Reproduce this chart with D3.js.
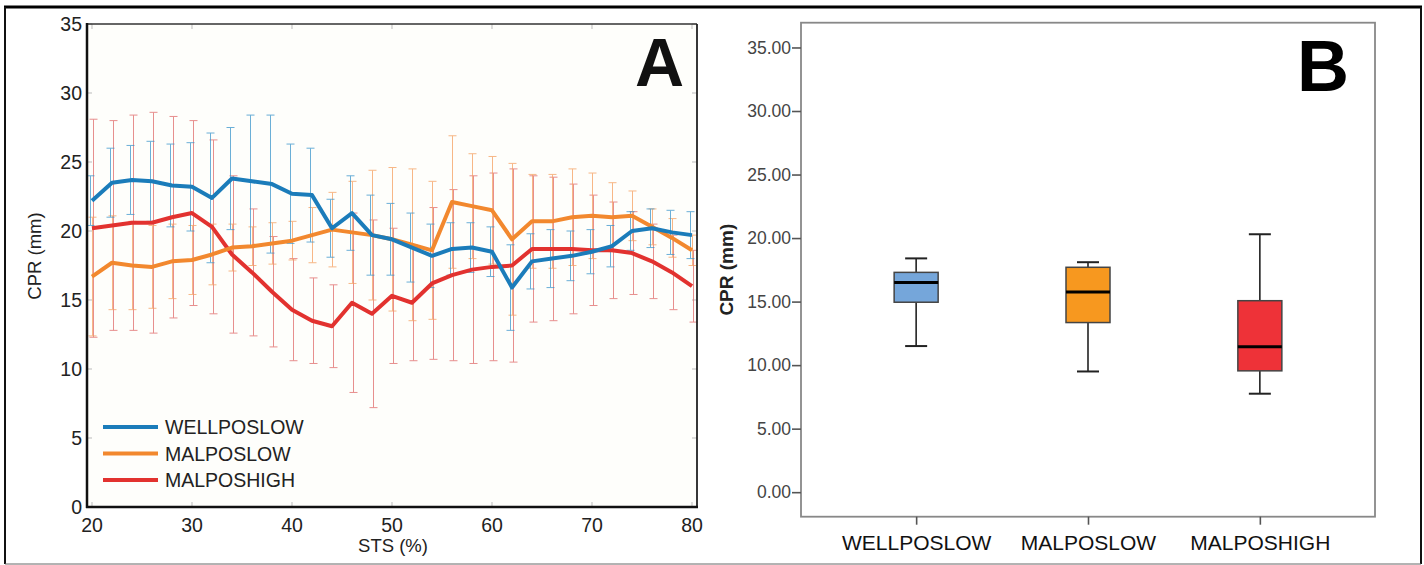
<!DOCTYPE html>
<html>
<head>
<meta charset="utf-8">
<script src="https://cdn.jsdelivr.net/npm/d3@7"></script>
<style>
  body { margin: 0; background: #fff; }
  svg { display: block; font-family: "Liberation Sans", Arial, sans-serif; }
</style>
</head>
<body>
<div id="chart"></div>
<script>
// ---- panel A data (mean and SD per STS step) ----
const stsValues = [20, 22, 24, 26, 28, 30, 32, 34, 36, 38, 40, 42, 44, 46, 48, 50, 52, 54, 56, 58, 60, 62, 64, 66, 68, 70, 72, 74, 76, 78, 80];
const wellposlowMean = [22.2, 23.5, 23.7, 23.6, 23.3, 23.2, 22.4, 23.8, 23.6, 23.4, 22.7, 22.6, 20.2, 21.3, 19.7, 19.4, 18.8, 18.2, 18.7, 18.8, 18.5, 15.9, 17.8, 18.0, 18.2, 18.5, 18.9, 20.0, 20.2, 19.9, 19.7];
const wellposlowSd = [1.8, 2.5, 2.5, 2.9, 3.0, 3.2, 4.7, 3.7, 4.8, 5.0, 3.6, 3.4, 2.1, 2.7, 2.9, 2.6, 2.5, 2.3, 1.9, 1.8, 1.8, 3.1, 2.0, 2.1, 1.8, 1.6, 1.5, 1.4, 1.4, 1.6, 1.7];
const malposlowMean = [16.7, 17.7, 17.5, 17.4, 17.8, 17.9, 18.3, 18.8, 18.9, 19.1, 19.3, 19.7, 20.1, 19.9, 19.7, 19.4, 19.0, 18.6, 22.1, 21.8, 21.5, 19.4, 20.7, 20.7, 21.0, 21.1, 21.0, 21.1, 20.3, 19.5, 18.6];
const malposlowSd = [4.3, 3.4, 3.2, 3.0, 2.7, 2.5, 2.2, 1.7, 1.4, 1.5, 1.4, 2.0, 2.7, 3.7, 4.7, 5.2, 5.5, 5.0, 4.8, 3.8, 3.9, 5.5, 3.4, 3.4, 3.5, 3.1, 2.5, 1.8, 1.3, 1.4, 1.1];
const malposhighMean = [20.2, 20.4, 20.6, 20.6, 21.0, 21.3, 20.3, 18.3, 17.0, 15.6, 14.3, 13.5, 13.1, 14.8, 14.0, 15.3, 14.8, 16.2, 16.8, 17.2, 17.4, 17.5, 18.7, 18.7, 18.7, 18.6, 18.6, 18.4, 17.8, 17.0, 16.0];
const malposhighSd = [7.9, 7.6, 7.8, 8.0, 7.3, 6.7, 6.3, 5.7, 4.6, 4.0, 3.7, 3.1, 3.0, 6.5, 6.8, 4.9, 4.2, 5.5, 6.2, 6.8, 6.8, 7.0, 5.3, 5.2, 4.7, 4.0, 3.5, 3.0, 2.7, 2.7, 2.6];
const xTicksA = [20, 30, 40, 50, 60, 70, 80];
const yTicksA = [0, 5, 10, 15, 20, 25, 30, 35];

// ---- panel B data (box plot) ----
const boxCategories = ["WELLPOSLOW", "MALPOSLOW", "MALPOSHIGH"];
const boxMin = [11.5, 9.5, 7.75];
const boxQ1 = [14.95, 13.35, 9.55];
const boxMedian = [16.5, 15.75, 11.45];
const boxQ3 = [17.3, 17.7, 15.07];
const boxMax = [18.4, 18.1, 20.3];
const yTicksB = [0, 5, 10, 15, 20, 25, 30, 35];

const W = 1424, H = 565;
const svg = d3.select("#chart").append("svg").attr("width", W).attr("height", H);

// outer frame
svg.append("line").attr("x1", 4).attr("x2", 1422).attr("y1", 7).attr("y2", 7).attr("stroke", "#000").attr("stroke-width", 3);
svg.append("line").attr("x1", 5).attr("x2", 5).attr("y1", 7).attr("y2", 564).attr("stroke", "#111").attr("stroke-width", 2);
svg.append("line").attr("x1", 1421).attr("x2", 1421).attr("y1", 7).attr("y2", 564).attr("stroke", "#111").attr("stroke-width", 2);
svg.append("line").attr("x1", 5).attr("x2", 1421).attr("y1", 564).attr("y2", 564).attr("stroke", "#666").attr("stroke-width", 1);

// ================= Panel A =================
const A = { left: 87, right: 697, top: 24, bottom: 507 };
const xA = d3.scaleLinear().domain([19.5, 80.5]).range([A.left, A.right]);
const yA = d3.scaleLinear().domain([0, 35]).range([A.bottom, A.top]);
const gA = svg.append("g");

gA.append("rect").attr("x", A.left).attr("y", A.top).attr("width", A.right - A.left).attr("height", A.bottom - A.top).attr("fill", "#fefefb");

// inner ticks on all four sides
const tickLen = 5;
xTicksA.forEach(t => {
  gA.append("line").attr("x1", xA(t)).attr("x2", xA(t)).attr("y1", A.bottom).attr("y2", A.bottom - tickLen).attr("stroke", "#bbb");
  gA.append("line").attr("x1", xA(t)).attr("x2", xA(t)).attr("y1", A.top).attr("y2", A.top + tickLen).attr("stroke", "#bbb");
});
yTicksA.forEach(t => {
  gA.append("line").attr("x1", A.left).attr("x2", A.left + tickLen).attr("y1", yA(t)).attr("y2", yA(t)).attr("stroke", "#bbb");
  gA.append("line").attr("x1", A.right).attr("x2", A.right - tickLen).attr("y1", yA(t)).attr("y2", yA(t)).attr("stroke", "#bbb");
});

const seriesA = [
  { name: "WELLPOSLOW", mean: wellposlowMean, sd: wellposlowSd, color: "#1b7cba", bar: "#3a95cc", dx: -1.5 },
  { name: "MALPOSLOW", mean: malposlowMean, sd: malposlowSd, color: "#f2882e", bar: "#f5a060", dx: 0.5 },
  { name: "MALPOSHIGH", mean: malposhighMean, sd: malposhighSd, color: "#e2322f", bar: "#e06a6a", dx: 1.5 }
];

// error bars (drawn under the lines)
const cap = 4;
[seriesA[2], seriesA[1], seriesA[0]].forEach(s => {
  const g = gA.append("g").attr("stroke", s.bar).attr("stroke-width", 1).attr("opacity", 0.75);
  stsValues.forEach((x, i) => {
    const cx = xA(x) + s.dx;
    const lo = yA(s.mean[i] - s.sd[i]);
    const hi = yA(s.mean[i] + s.sd[i]);
    g.append("line").attr("x1", cx).attr("x2", cx).attr("y1", lo).attr("y2", hi);
    g.append("line").attr("x1", cx - cap).attr("x2", cx + cap).attr("y1", lo).attr("y2", lo);
    g.append("line").attr("x1", cx - cap).attr("x2", cx + cap).attr("y1", hi).attr("y2", hi);
  });
});

const lineA = d3.line().x(d => xA(d[0])).y(d => yA(d[1]));
[seriesA[2], seriesA[1], seriesA[0]].forEach(s => {
  gA.append("path")
    .datum(stsValues.map((x, i) => [x, s.mean[i]]))
    .attr("d", lineA)
    .attr("fill", "none")
    .attr("stroke", s.color)
    .attr("stroke-width", 4)
    .attr("stroke-linejoin", "round");
});

// frame
gA.append("line").attr("x1", A.left).attr("x2", A.right).attr("y1", A.top).attr("y2", A.top).attr("stroke", "#333").attr("stroke-width", 1.5);
gA.append("line").attr("x1", A.right).attr("x2", A.right).attr("y1", A.top).attr("y2", A.bottom).attr("stroke", "#222").attr("stroke-width", 1.8);
gA.append("line").attr("x1", A.left).attr("x2", A.left).attr("y1", A.top - 1).attr("y2", A.bottom + 1).attr("stroke", "#111").attr("stroke-width", 2.5);
gA.append("line").attr("x1", A.left - 1).attr("x2", A.right + 1).attr("y1", A.bottom).attr("y2", A.bottom).attr("stroke", "#111").attr("stroke-width", 2.5);

// tick labels
gA.selectAll(".ylab").data(yTicksA).enter().append("text")
  .attr("x", A.left - 5).attr("y", d => yA(d)).attr("dy", "0.36em")
  .attr("text-anchor", "end").attr("font-size", 19.5).attr("fill", "#222").text(d => d);
gA.selectAll(".xlab").data(xTicksA).enter().append("text")
  .attr("x", d => xA(d)).attr("y", 532)
  .attr("text-anchor", "middle").attr("font-size", 19.5).attr("fill", "#222").text(d => d);

gA.append("text").attr("x", 393).attr("y", 552).attr("text-anchor", "middle")
  .attr("font-size", 18.5).attr("fill", "#222").text("STS (%)");
gA.append("text").attr("transform", "translate(41,256) rotate(-90)").attr("text-anchor", "middle")
  .attr("font-size", 18.5).attr("fill", "#222").text("CPR (mm)");

gA.append("text").attr("x", 684).attr("y", 86).attr("text-anchor", "end")
  .attr("font-size", 68).attr("font-weight", "bold").attr("fill", "#111").text("A");

// legend
const legendY = [427, 453.5, 480];
seriesA.forEach((s, i) => {
  gA.append("line").attr("x1", 103).attr("x2", 158).attr("y1", legendY[i]).attr("y2", legendY[i])
    .attr("stroke", s.color).attr("stroke-width", 4);
  gA.append("text").attr("x", 165).attr("y", legendY[i]).attr("dy", "0.36em")
    .attr("font-size", 19.5).attr("fill", "#222").text(s.name);
});

// ================= Panel B =================
const B = { left: 801, right: 1375, top: 22.7, bottom: 516.7 };
const xB = d3.scalePoint().domain(boxCategories).range([B.left, B.right]).padding(0.67);
const yB = d3.scaleLinear().domain([-1.93, 36.95]).range([B.bottom, B.top]);
const gB = svg.append("g");
const boxColors = ["#75a6da", "#f7981f", "#ee3238"];

gB.append("rect").attr("x", B.left).attr("y", B.top).attr("width", B.right - B.left).attr("height", B.bottom - B.top)
  .attr("fill", "#fff").attr("stroke", "#888").attr("stroke-width", 1.8);

const yAxisB = gB.append("g").attr("transform", `translate(${B.left},0)`)
  .call(d3.axisLeft(yB).tickValues(yTicksB).tickFormat(d3.format(".2f")).tickSize(9).tickPadding(1));
yAxisB.select(".domain").remove();
yAxisB.selectAll("line").attr("stroke", "#555").attr("stroke-width", 1.6);
yAxisB.selectAll("text").attr("font-size", 17.5).attr("fill", "#444").attr("font-family", "Liberation Sans, Arial, sans-serif");

const xAxisB = gB.append("g").attr("transform", `translate(0,${B.bottom})`)
  .call(d3.axisBottom(xB).tickSize(8).tickPadding(10));
xAxisB.select(".domain").remove();
xAxisB.selectAll("line").attr("stroke", "#555").attr("stroke-width", 1.6);
xAxisB.selectAll("text").attr("font-size", 21).attr("fill", "#111").attr("font-family", "Liberation Sans, Arial, sans-serif");

gB.append("text").attr("transform", `translate(733,${(B.top + B.bottom) / 2}) rotate(-90)`).attr("text-anchor", "middle")
  .attr("font-size", 19).attr("font-weight", "bold").attr("fill", "#222").text("CPR (mm)");

gB.append("text").attr("x", 1349).attr("y", 91).attr("text-anchor", "end")
  .attr("font-size", 72).attr("font-weight", "bold").attr("fill", "#000").text("B");

const boxW = 44;
boxCategories.forEach((c, i) => {
  const cx = xB(c);
  const g = gB.append("g");
  // whiskers
  g.append("line").attr("x1", cx).attr("x2", cx).attr("y1", yB(boxMax[i])).attr("y2", yB(boxQ3[i])).attr("stroke", "#222").attr("stroke-width", 1.6);
  g.append("line").attr("x1", cx).attr("x2", cx).attr("y1", yB(boxQ1[i])).attr("y2", yB(boxMin[i])).attr("stroke", "#222").attr("stroke-width", 1.6);
  g.append("line").attr("x1", cx - boxW / 4).attr("x2", cx + boxW / 4).attr("y1", yB(boxMax[i])).attr("y2", yB(boxMax[i])).attr("stroke", "#222").attr("stroke-width", 2);
  g.append("line").attr("x1", cx - boxW / 4).attr("x2", cx + boxW / 4).attr("y1", yB(boxMin[i])).attr("y2", yB(boxMin[i])).attr("stroke", "#222").attr("stroke-width", 2);
  // box
  g.append("rect").attr("x", cx - boxW / 2).attr("y", yB(boxQ3[i])).attr("width", boxW)
    .attr("height", yB(boxQ1[i]) - yB(boxQ3[i])).attr("fill", boxColors[i]).attr("stroke", "#444").attr("stroke-width", 1.5);
  // median
  g.append("line").attr("x1", cx - boxW / 2).attr("x2", cx + boxW / 2).attr("y1", yB(boxMedian[i])).attr("y2", yB(boxMedian[i]))
    .attr("stroke", "#000").attr("stroke-width", 3);
});
</script>
</body>
</html>
